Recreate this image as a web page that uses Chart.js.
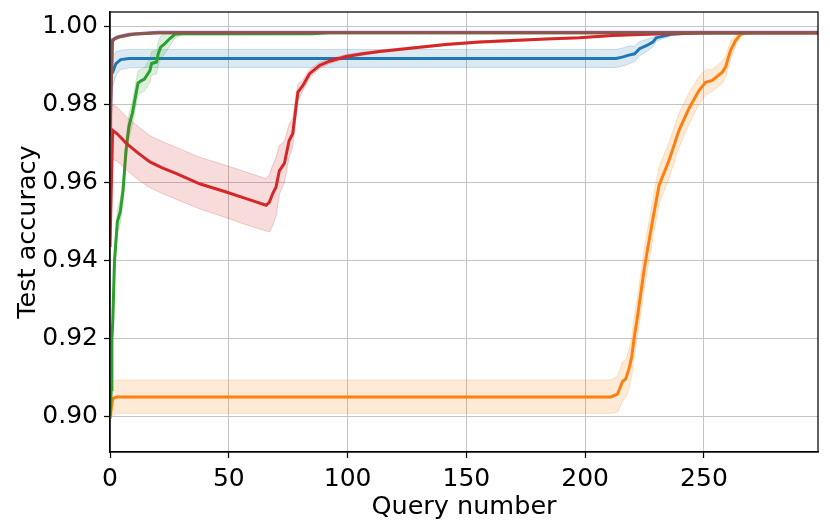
<!DOCTYPE html>
<html>
<head>
<meta charset="utf-8">
<script src="https://cdn.jsdelivr.net/npm/chart.js@4.4.0/dist/chart.umd.min.js"></script>
<style>
  html, body { margin: 0; padding: 0; background: #fff; }
</style>
</head>
<body>
<canvas id="chart" width="830" height="530"></canvas>
<script>
// values
const xTicks = [0, 50, 100, 150, 200, 250];
const yTicks = [0.90, 0.92, 0.94, 0.96, 0.98, 1.00];

const blueX    = [1, 1.7, 2.5, 4.5, 8, 15, 213, 216, 218, 220.8, 222.9, 226.4, 228.5, 229.9, 232, 236.2, 245, 298];
const blueMean = [0.9880, 0.9892, 0.9905, 0.9915, 0.9918, 0.9918, 0.9918, 0.9922, 0.9926, 0.9930, 0.9943, 0.9953, 0.9960, 0.9971, 0.9974, 0.9980, 0.9983, 0.9984];
const blueLow  = [0.9840, 0.9858, 0.9875, 0.9890, 0.9894, 0.9895, 0.9895, 0.9899, 0.9903, 0.9910, 0.9925, 0.9938, 0.9948, 0.9962, 0.9967, 0.9976, 0.9982, 0.9983];
const blueHigh = [0.9920, 0.9928, 0.9935, 0.9939, 0.9941, 0.9941, 0.9941, 0.9945, 0.9949, 0.9950, 0.9961, 0.9968, 0.9972, 0.9980, 0.9981, 0.9984, 0.9984, 0.9985];

const orangeX    = [0, 1.1, 2.8, 210.8, 213.6, 215.7, 217.1, 218.5, 219.6, 220.6, 222, 223.4, 224.8, 226.2, 228, 231.1, 235.3, 239.5, 243.7, 247.9, 250.7, 253.5, 257.7, 259.1, 261.2, 263.3, 265.4, 268, 298];
const orangeMean = [0.8995, 0.9047, 0.9051, 0.9051, 0.9058, 0.9090, 0.9098, 0.9124, 0.9154, 0.9201, 0.9256, 0.9316, 0.9376, 0.9427, 0.9490, 0.9593, 0.9657, 0.9734, 0.9790, 0.9836, 0.9857, 0.9862, 0.9883, 0.9896, 0.9939, 0.9964, 0.9980, 0.9984, 0.9984];
const orangeLow  = [0.8990, 0.9005, 0.9009, 0.9009, 0.9012, 0.9040, 0.9050, 0.9075, 0.9105, 0.9150, 0.9205, 0.9265, 0.9325, 0.9377, 0.9440, 0.9545, 0.9612, 0.9690, 0.9750, 0.9800, 0.9825, 0.9834, 0.9855, 0.9870, 0.9915, 0.9950, 0.9975, 0.9983, 0.9983];
const orangeHigh = [0.9000, 0.9090, 0.9094, 0.9094, 0.9104, 0.9140, 0.9146, 0.9173, 0.9203, 0.9252, 0.9307, 0.9367, 0.9427, 0.9477, 0.9540, 0.9641, 0.9702, 0.9778, 0.9830, 0.9872, 0.9889, 0.9890, 0.9911, 0.9922, 0.9963, 0.9978, 0.9985, 0.9985, 0.9985];

const greenX    = [0, 0.5, 0.8, 1.2, 1.9, 2.5, 3.1, 4.3, 5.5, 6.7, 8.0, 9.5, 10.8, 11.8, 12.9, 14.5, 16.8, 17.5, 19.6, 20.3, 21.3, 23.1, 25.2, 27.3, 30, 85, 92, 298];
const greenMean = [0.9000, 0.9070, 0.9200, 0.9250, 0.9400, 0.9450, 0.9500, 0.9525, 0.9580, 0.9680, 0.9745, 0.9780, 0.9823, 0.9855, 0.9860, 0.9865, 0.9887, 0.9905, 0.9909, 0.9930, 0.9947, 0.9956, 0.9969, 0.9980, 0.9981, 0.9981, 0.9984, 0.9984];
const greenLow  = [0.9000, 0.9040, 0.9170, 0.9220, 0.9370, 0.9420, 0.9470, 0.9495, 0.9550, 0.9650, 0.9715, 0.9750, 0.9793, 0.9825, 0.9830, 0.9835, 0.9857, 0.9875, 0.9879, 0.9900, 0.9917, 0.9930, 0.9950, 0.9970, 0.9978, 0.9979, 0.9983, 0.9983];
const greenHigh = [0.9000, 0.9100, 0.9230, 0.9280, 0.9430, 0.9480, 0.9530, 0.9555, 0.9610, 0.9710, 0.9775, 0.9810, 0.9853, 0.9885, 0.9890, 0.9895, 0.9917, 0.9935, 0.9939, 0.9960, 0.9975, 0.9980, 0.9984, 0.9985, 0.9984, 0.9983, 0.9985, 0.9985];

const redX    = [0, 1.1, 3, 7, 12, 16.8, 22, 28, 37.7, 48.9, 57.3, 65.7, 67.1, 68.5, 69.9, 71.3, 73.4, 75.4, 76.9, 78.2, 79.1, 81.2, 84, 88.2, 92.4, 99.4, 106.4, 113.4, 127.4, 141.4, 155.5, 169.5, 183.5, 197.5, 211.5, 232.4, 253, 298];
const redMean = [0.9435, 0.9734, 0.9725, 0.9700, 0.9675, 0.9653, 0.9638, 0.9623, 0.9597, 0.9576, 0.9559, 0.9542, 0.9550, 0.9572, 0.9589, 0.9631, 0.9649, 0.9708, 0.9725, 0.9789, 0.9832, 0.9849, 0.9879, 0.9900, 0.9911, 0.9923, 0.9930, 0.9936, 0.9945, 0.9954, 0.9960, 0.9964, 0.9968, 0.9971, 0.9977, 0.9981, 0.9984, 0.9984];
const redLow  = [0.9435, 0.9660, 0.9655, 0.9632, 0.9607, 0.9587, 0.9572, 0.9557, 0.9533, 0.9510, 0.9492, 0.9476, 0.9474, 0.9490, 0.9515, 0.9570, 0.9600, 0.9665, 0.9690, 0.9760, 0.9810, 0.9835, 0.9868, 0.9892, 0.9905, 0.9918, 0.9926, 0.9933, 0.9942, 0.9951, 0.9957, 0.9961, 0.9966, 0.9969, 0.9975, 0.9980, 0.9983, 0.9983];
const redHigh = [0.9435, 0.9800, 0.9793, 0.9768, 0.9743, 0.9720, 0.9705, 0.9690, 0.9665, 0.9644, 0.9627, 0.9610, 0.9620, 0.9645, 0.9665, 0.9695, 0.9705, 0.9750, 0.9765, 0.9820, 0.9852, 0.9863, 0.9890, 0.9908, 0.9917, 0.9928, 0.9934, 0.9939, 0.9948, 0.9957, 0.9963, 0.9967, 0.9970, 0.9973, 0.9979, 0.9982, 0.9985, 0.9985];

const purpleX    = [0, 1, 3, 8, 20, 298];
const purpleMean = [0.9720, 0.9966, 0.9973, 0.9980, 0.9985, 0.9985];

const brownX    = [0, 1, 2, 4, 7, 10, 15, 20, 30, 298];
const brownMean = [0.9720, 0.9962, 0.9968, 0.9973, 0.9977, 0.9980, 0.9982, 0.9983, 0.9984, 0.9984];

const series = [
  { rgb: '31,119,180', x: blueX, mean: blueMean, low: blueLow, high: blueHigh },
  { rgb: '255,127,14', x: orangeX, mean: orangeMean, low: orangeLow, high: orangeHigh },
  { rgb: '44,160,44', x: greenX, mean: greenMean, low: greenLow, high: greenHigh },
  { rgb: '214,39,40', x: redX, mean: redMean, low: redLow, high: redHigh },
  { rgb: '148,103,189', x: purpleX, mean: purpleMean },
  { rgb: '140,86,75', x: brownX, mean: brownMean }
];

function pts(xs, ys) {
  return xs.map((x, i) => ({ x: x, y: ys[i] }));
}

// build datasets in drawing order; higher "order" is drawn first
const datasets = [];
series.forEach(s => {
  if (s.low) {
    const lowIdx = datasets.length;
    datasets.push({
      data: pts(s.x, s.low), borderColor: `rgba(${s.rgb},0.22)`, borderWidth: 1,
      fill: false, pointRadius: 0
    });
    datasets.push({
      data: pts(s.x, s.high), borderColor: `rgba(${s.rgb},0.22)`, borderWidth: 1,
      backgroundColor: `rgba(${s.rgb},0.16)`, fill: lowIdx, pointRadius: 0
    });
  }
  datasets.push({
    data: pts(s.x, s.mean), borderColor: `rgb(${s.rgb})`, borderWidth: 3,
    fill: false, pointRadius: 0
  });
});
datasets.forEach((d, i) => { d.order = datasets.length - i; });

const framePlugin = {
  id: 'frame',
  afterDatasetsDraw(chart) {
    const { ctx, chartArea: a } = chart;
    ctx.save();
    ctx.strokeStyle = '#000';
    ctx.lineWidth = 1.25;
    ctx.strokeRect(a.left, a.top, a.right - a.left, a.bottom - a.top);
    ctx.restore();
  }
};

const tickFont = { family: 'DejaVu Sans', size: 25 };
const titleFont = { family: 'DejaVu Sans', size: 25.5 };

new Chart(document.getElementById('chart').getContext('2d'), {
  type: 'line',
  data: { datasets: datasets },
  plugins: [framePlugin],
  options: {
    responsive: false,
    animation: false,
    devicePixelRatio: 1,
    layout: { padding: { left: 0, right: 12, top: 12, bottom: 0 } },
    elements: { line: { tension: 0 } },
    plugins: { legend: { display: false }, tooltip: { enabled: false } },
    scales: {
      x: {
        type: 'linear', min: 0, max: 298,
        afterBuildTicks: axis => { axis.ticks = xTicks.map(v => ({ value: v })); },
        afterFit: axis => { axis.height = 78; axis.paddingLeft = 0; axis.paddingRight = 0; },
        grid: { color: '#c4c4c4', lineWidth: 1, tickColor: '#000', tickLength: 6, tickWidth: 1.25 },
        border: { color: '#000', width: 1.25 },
        ticks: { color: '#000', font: tickFont, padding: 6, maxRotation: 0, callback: v => String(v) },
        title: { display: true, text: 'Query number', color: '#000', font: titleFont, padding: { top: 0, bottom: 7 } }
      },
      y: {
        type: 'linear', min: 0.891, max: 1.0037,
        afterBuildTicks: axis => { axis.ticks = yTicks.map(v => ({ value: v })); },
        afterFit: axis => { axis.width = 110; axis.paddingTop = 0; axis.paddingBottom = 0; },
        grid: { color: '#c4c4c4', lineWidth: 1, tickColor: '#000', tickLength: 6, tickWidth: 1.25 },
        border: { color: '#000', width: 1.25 },
        ticks: { color: '#000', font: tickFont, padding: 6, callback: v => v.toFixed(2) },
        title: { display: true, text: 'Test accuracy', color: '#000', font: titleFont, padding: { top: 13, bottom: 0 } }
      }
    }
  }
});
</script>
</body>
</html>
